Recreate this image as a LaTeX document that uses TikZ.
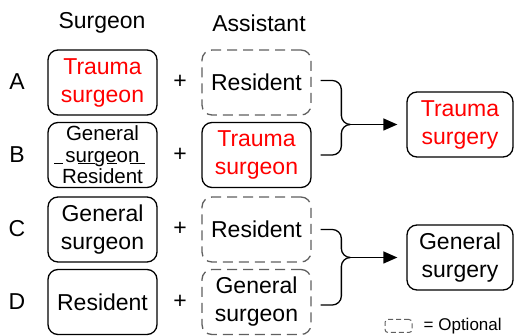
\documentclass[tikz,border=0pt]{standalone}
\usepackage{fontspec}
\setmainfont{Liberation Sans}
\usetikzlibrary{calc, positioning, arrows.meta}
\definecolor{optgray}{RGB}{95,95,95}
\def\rowfont{\fontsize{23}{28}\selectfont}
\def\smallrowfont{\fontsize{20.5}{21.5}\selectfont}
\def\legfont{\fontsize{17}{20}\selectfont}

\begin{document}
\begin{tikzpicture}[x=1pt, y=-1pt,
    role/.style={draw, rounded corners=10pt, line width=1.3pt, minimum width=109pt,
        minimum height=65pt, inner sep=0pt, align=center, font=\rowfont},
    optrole/.style={role, draw=optgray, dash pattern=on 10pt off 6pt},
    outcome/.style={role, minimum width=106pt},
    brace/.style={line width=1.3pt, rounded corners=9pt},
    lead/.style={line width=1.3pt, -{Triangle[length=14pt, width=12pt]}, shorten >=9pt}]
    \useasboundingbox (0,0) rectangle (515,336);

    \node [font=\rowfont] (hsurg) at (102,23) {Surgeon};
    \node [font=\rowfont] (hassi) at (259,23) {Assistant};

    \node [font=\rowfont] (lA) at (17,82) {A};
    \node [font=\rowfont] (lB) at (17,155) {B};
    \node [font=\rowfont] (lC) at (17,229) {C};
    \node [font=\rowfont] (lD) at (17,302) {D};

    \node [role, text=red] (sA) at (102.5,82.5) {Trauma\\surgeon};
    \node [role, font=\smallrowfont] (sB) at (102.5,155) {General\\surgeon\\Resident};
    \node [role] (sC) at (102.5,229.5) {General\\surgeon};
    \node [role] (sD) at (102.5,302) {Resident};

    \draw [line width=1.3pt, dash pattern=on 9pt off 15pt on 17pt off 12pt on 10pt off 13pt on 15pt]
        ($(sB.center)+(-48.5,8.5)$) -- ($(sB.center)+(42.5,8.5)$);

    \foreach \r/\y in {A/82, B/155, C/229, D/302}
        \node [font=\rowfont] (p\r) at (180,\y) {+};

    \node [optrole] (aA) at (256.5,82.5) {Resident};
    \node [role, text=red] (aB) at (256.5,155) {Trauma\\surgeon};
    \node [optrole] (aC) at (256.5,229.5) {Resident};
    \node [optrole] (aD) at (256.5,302) {General\\surgeon};

    \node [outcome, text=red] (tsurg) at (460,124.5) {Trauma\\surgery};
    \node [outcome] (gsurg) at (460,257.5) {General\\surgery};

    \coordinate (tipT) at ($(tsurg.west)+(-56,0)$);
    \coordinate (tipG) at ($(gsurg.west)+(-56,0)$);

    \draw [brace] ($(aA.east)+(9,-2)$) -| ($(tipT)+(-9,0)$) -- (tipT);
    \draw [brace] ($(aB.east)+(9,0)$) -| ($(tipT)+(-9,0)$) -- (tipT);
    \draw [lead] (tipT) -- (tsurg.west);

    \draw [brace] ($(aC.east)+(9,0)$) -| ($(tipG)+(-9,0)$) -- (tipG);
    \draw [brace] ($(aD.east)+(9,3)$) -| ($(tipG)+(-9,0)$) -- (tipG);
    \draw [lead] (tipG) -- (gsurg.west);

    \node [draw=optgray, line width=1pt, rounded corners=3pt, dash pattern=on 5pt off 3pt,
        minimum width=27pt, minimum height=13pt, inner sep=0pt] (leg) at (398.5,326) {};
    \node [font=\legfont, inner sep=0pt, right=11pt of leg] (legtext) {= Optional};
\end{tikzpicture}
\end{document}
